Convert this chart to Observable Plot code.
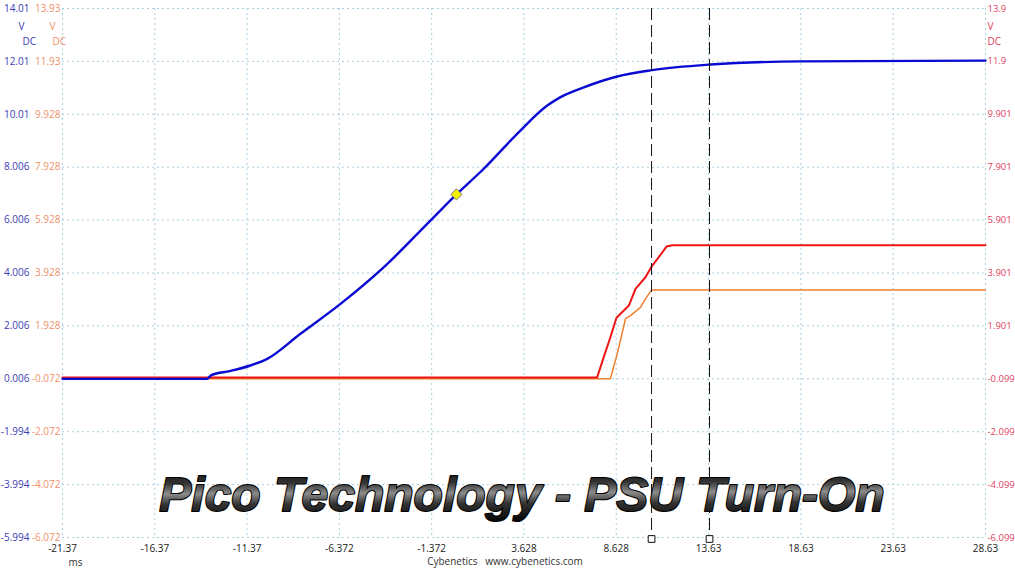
<!DOCTYPE html>
<html>
<head>
<meta charset="utf-8">
<script src="https://cdn.jsdelivr.net/npm/d3@7"></script>
<script src="https://cdn.jsdelivr.net/npm/@observablehq/plot@0.6"></script>
<style>
  body { margin: 0; background: #fff; }
  #graph svg { display: block; }
</style>
</head>
<body>
<div id="graph"></div>
<script>
// time axis (ms)
const xTicks = [-21.37, -16.37, -11.37, -6.372, -1.372, 3.628, 8.628, 13.63, 18.63, 23.63, 28.63];

// the three channel axes, bottom to top
const blueLabels = ["-5.994", "-3.994", "-1.994", "0.006", "2.006", "4.006", "6.006", "8.006", "10.01", "12.01", "14.01"];
const orangeLabels = ["-6.072", "-4.072", "-2.072", "-0.072", "1.928", "3.928", "5.928", "7.928", "9.928", "11.93", "13.93"];
const redLabels = ["-6.099", "-4.099", "-2.099", "-0.099", "1.901", "3.901", "5.901", "7.901", "9.901", "11.9", "13.9"];
const blueRange = [-5.994, 14.01];
const orangeRange = [-6.072, 13.93];
const redRange = [-6.099, 13.9];
const units = ["V", "DC"];

// traces
const blueT = [-21.37, -13.55, -13.3, -12.3, -11.19, -10.28, -8.48, -6.31, -3.96, -1.44, -0.03, 1.45, 3.26, 4.89, 5.61, 6.87, 8.68, 10.48, 13.73, 18.61, 28.63];
const blueV = [0.006, 0.006, 0.15, 0.3, 0.51, 0.76, 1.71, 2.84, 4.23, 5.99, 6.98, 7.95, 9.27, 10.34, 10.66, 11.03, 11.44, 11.67, 11.89, 12.01, 12.04];
const redT = [-21.37, 7.59, 7.95, 8.31, 8.64, 9.04, 9.31, 9.67, 10.21, 10.52, 10.93, 11.35, 11.66, 28.63];
const redV = [-0.05, -0.05, 0.72, 1.47, 2.21, 2.48, 2.67, 3.30, 3.74, 4.12, 4.50, 4.90, 4.95, 4.95];
const orangeT = [-21.37, 8.31, 8.68, 9.13, 9.40, 9.94, 10.21, 10.54, 28.63];
const orangeV = [-0.07, -0.07, 0.87, 2.20, 2.32, 2.63, 2.95, 3.29, 3.29];

const cursors = [10.54, 13.68];
const markerT = [-0.03];
const markerV = [6.98];

const titleText = ["Pico Technology - PSU Turn-On"];
const unitText = ["ms"];
const credit = ["Cybenetics   www.cybenetics.com"];

const blueCol = "#3c3cb4", orangeCol = "#f0906a", redCol = "#e2405e";

// every channel is drawn in grid divisions (0..10)
function div(v, r) { return (v - r[0]) / (r[1] - r[0]) * 10; }
function pts(ts, vs) { return ts.map((t, i) => ({t: t, v: vs[i]})); }

const blue = pts(blueT, blueV);
const red = pts(redT, redV);
const orange = pts(orangeT, orangeV);
const marker = pts(markerT, markerV);
const divs = d3.range(11);

const chart = Plot.plot({
  width: 1015,
  height: 571,
  marginTop: 8,
  marginBottom: 34,
  marginLeft: 62,
  marginRight: 30,
  style: {fontFamily: "'Open Sans', sans-serif", fontSize: "10px", background: "#fff", color: "#222"},
  x: {domain: [xTicks[0], xTicks[xTicks.length - 1]]},
  y: {domain: [0, 10]},
  marks: [
    Plot.gridX(xTicks, {stroke: "#a9cfdf", strokeOpacity: 1, strokeDasharray: "2,3"}),
    Plot.gridY(divs, {stroke: "#a9cfdf", strokeOpacity: 1, strokeDasharray: "2,3"}),
    Plot.axisX(xTicks, {tickSize: 0, tickPadding: 7, tickFormat: d => String(d), label: null, color: "#222"}),
    Plot.axisY(divs, {anchor: "left", tickSize: 0, tickPadding: 2, tickFormat: d => orangeLabels[d], label: null, color: orangeCol}),
    Plot.axisY(divs, {anchor: "left", tickSize: 0, tickPadding: 33, tickFormat: d => blueLabels[d], label: null, color: blueCol}),
    Plot.axisY(divs, {anchor: "right", tickSize: 0, tickPadding: 2, fontSize: 9.5, tickFormat: d => redLabels[d], label: null, color: redCol}),
    Plot.text(units.slice(0, 1), {text: d => d, frameAnchor: "top-left", dx: -44, dy: 14, fill: blueCol}),
    Plot.text(units.slice(1), {text: d => d, frameAnchor: "top-left", dx: -40, dy: 29, fill: blueCol}),
    Plot.text(units.slice(0, 1), {text: d => d, frameAnchor: "top-left", dx: -13, dy: 14, fill: orangeCol}),
    Plot.text(units.slice(1), {text: d => d, frameAnchor: "top-left", dx: -10, dy: 29, fill: orangeCol}),
    Plot.text(units.slice(0, 1), {text: d => d, frameAnchor: "top-right", dx: 2, dy: 14, textAnchor: "start", fill: redCol}),
    Plot.text(units.slice(1), {text: d => d, frameAnchor: "top-right", dx: 2, dy: 29, textAnchor: "start", fill: redCol}),
    Plot.text(unitText, {text: d => d, frameAnchor: "bottom-left", dx: 6, dy: 28, fill: "#333"}),
    Plot.text(credit, {text: d => d, frameAnchor: "bottom", dx: -19, dy: 27, fill: "#333"}),

    Plot.line(orange, {x: "t", y: d => div(d.v, orangeRange), stroke: "#f08030", strokeWidth: 1.5}),
    Plot.line(red, {x: "t", y: d => div(d.v, redRange), stroke: "#ee1515", strokeWidth: 2}),
    Plot.line(blue, {x: "t", y: d => div(d.v, blueRange), stroke: "#0a0ad2", strokeWidth: 2.4, curve: "monotone-x"}),

    Plot.ruleX(cursors, {stroke: "#111", strokeWidth: 1, strokeDasharray: "12,5"}),
    Plot.dot(cursors, {x: d => d, frameAnchor: "bottom", dy: 1.5, symbol: "square", r: 3.8, fill: "#fff", stroke: "#111", strokeWidth: 1}),
    Plot.dot(marker, {x: "t", y: d => div(d.v, blueRange), symbol: "diamond2", r: 5, fill: "#f2f200", stroke: "#777", strokeWidth: 1}),

    Plot.text(titleText, {text: d => d, frameAnchor: "bottom", dx: -2, dy: -27, fontSize: 48, fontWeight: "bold", fontStyle: "italic",
      fontFamily: "'Liberation Sans', Arial, sans-serif", fill: "#111", stroke: "#000", strokeWidth: 2})
  ]
});

// metallic look for the big title
const svg = d3.select(chart);
svg.insert("defs", ":first-child").html(
  '<linearGradient id="titleGrad" x1="0" y1="0" x2="0.05" y2="1">' +
  '<stop offset="0" stop-color="#0a0a0a"/><stop offset="0.3" stop-color="#333"/>' +
  '<stop offset="0.5" stop-color="#8c8c8c"/><stop offset="0.7" stop-color="#333"/>' +
  '<stop offset="1" stop-color="#0a0a0a"/></linearGradient>');
svg.selectAll("text")
  .filter(function () { return this.textContent === titleText[0]; })
  .attr("fill", "url(#titleGrad)");

d3.select("#graph").append(() => chart);
</script>
</body>
</html>
